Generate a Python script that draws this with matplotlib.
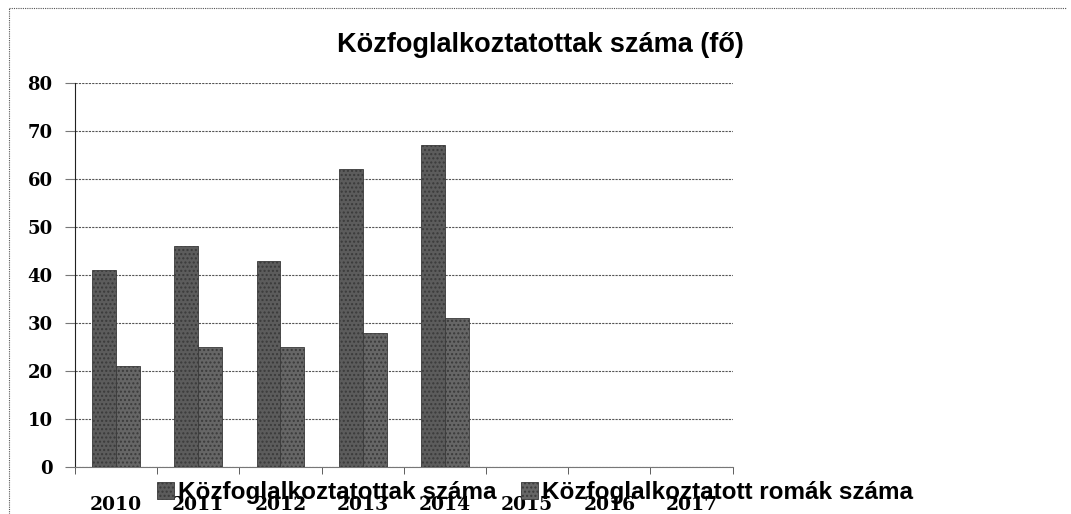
import matplotlib.pyplot as plt
import numpy as np
from matplotlib.lines import Line2D

years = ["2010", "2011", "2012", "2013", "2014", "2015", "2016", "2017"]
kozfog = [41, 46, 43, 62, 67]
romak = [21, 25, 25, 28, 31]

title = "Közfoglalkoztatottak száma (fő)"
label1 = "Közfoglalkoztatottak száma"
label2 = "Közfoglalkoztatott romák száma"

fig = plt.figure(figsize=(10.71, 5.14), dpi=100)
ax = fig.add_axes([0.070, 0.0914, 0.614, 0.747])

x = np.arange(len(years))
w = 0.29
b1 = ax.bar(x[:len(kozfog)] - w / 2, kozfog, w, color="#5c5c5c", edgecolor="#3a3a3a",
            hatch="....", linewidth=0.6, label=label1, zorder=3)
b2 = ax.bar(x[:len(romak)] + w / 2, romak, w, color="#666666", edgecolor="#3a3a3a",
            hatch="....", linewidth=0.6, label=label2, zorder=3)

ax.set_xlim(-0.5, len(years) - 0.5)
ax.set_ylim(0, 80)
ax.set_yticks(range(0, 81, 10))
ax.set_xticks(x)
ax.set_xticklabels(years, fontfamily="DejaVu Serif", fontweight="bold", fontsize=13.5)
ax.set_xticks(np.arange(-0.5, len(years), 1), minor=True)
ax.tick_params(axis="x", which="major", length=0, pad=21)
ax.tick_params(axis="x", which="minor", length=5, color="#444444", direction="out")
ax.tick_params(axis="y", length=7, color="#777777", pad=9)
for t in ax.get_yticklabels():
    t.set_fontfamily("DejaVu Serif")
    t.set_fontweight("bold")
    t.set_fontsize(13)

ax.grid(axis="y", linestyle=(0, (2, 1)), color="#555555", linewidth=0.8, zorder=0)
for s in ["top", "right"]:
    ax.spines[s].set_visible(False)
ax.spines["left"].set_color("#222222")
ax.spines["bottom"].set_color("#777777")
ax.spines["bottom"].set_linestyle((0, (2, 1)))

fig.text(0.505, 0.912, title, ha="center", va="center", fontsize=19.5, fontweight="bold",
         fontfamily="Liberation Sans")

fig.legend(handles=[b1, b2], loc="center left", bbox_to_anchor=(0.147, 0.042), ncol=2,
           frameon=False, prop={"family": "Liberation Sans", "weight": "bold", "size": 17.5},
           handlelength=0.7, handleheight=0.7, handletextpad=0.15, columnspacing=1.0,
           borderpad=0, borderaxespad=0)

# dotted frame of the scanned chart area
fig.add_artist(Line2D([0.008, 0.995], [0.984, 0.984], transform=fig.transFigure,
                      color="#555555", linestyle=(0, (1, 1)), linewidth=0.8))
fig.add_artist(Line2D([0.008, 0.008], [0.0, 0.984], transform=fig.transFigure,
                      color="#555555", linestyle=(0, (1, 1)), linewidth=0.8))

fig.savefig("out.png", dpi=100)
